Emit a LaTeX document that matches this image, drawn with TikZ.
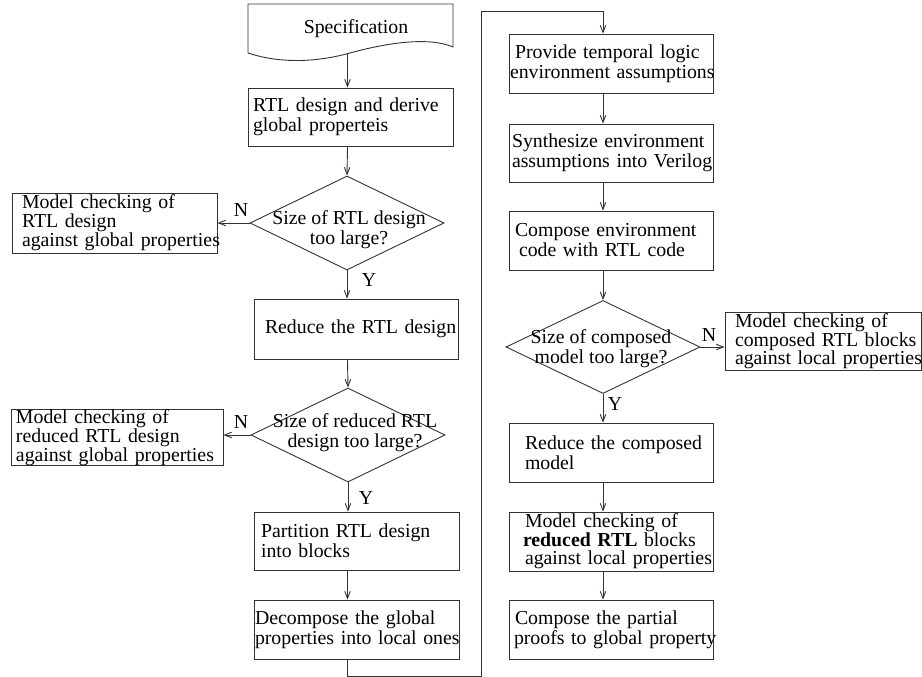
\documentclass[tikz,border=0pt]{standalone}
\usepackage{fontspec}
\setmainfont{Liberation Serif}
\usetikzlibrary{shapes.geometric,arrows.meta}
% lines are broken by hand only
\hyphenpenalty=10000
\exhyphenpenalty=10000
\hbadness=10000
\hfuzz=100pt

\begin{document}
\begin{tikzpicture}[x=1pt,y=-1pt,
  fnt/.style={font=\fontsize{19.8pt}{20pt}\selectfont},
  fntt/.style={font=\fontsize{19.8pt}{18pt}\selectfont},
  box/.style={draw=black!80, line width=0.9pt, rectangle, align=left,
              inner ysep=0pt, fnt},
  dia/.style={draw=black!80, line width=0.9pt, diamond, inner sep=0pt,
              minimum width=194pt, minimum height=94pt},
  dtext/.style={align=center, inner sep=0pt, fnt},
  yn/.style={inner sep=0pt, fnt},
  arr/.style={draw=black!80, line width=0.9pt,
              -{Straight Barb[length=7pt,width=5.5pt]}},
]
\useasboundingbox (0,0) rectangle (922,677);

% column axes
\coordinate (colA) at (347.5,0);
\coordinate (colB) at (603,0);

% ---------- left column ----------
\node[fnt, inner sep=0pt, minimum width=205pt, minimum height=50pt]
  (spec) at (350.5,29) {\hspace*{11pt}Specification};
\draw[draw=black!80, line width=0.9pt]
  (248,53) -- (248,4) -- (453,4) -- (453,47)
  .. controls (430,37) and (390,42) .. (350,53)
  .. controls (310,64) and (275,62) .. (248,53);

\node[box, text width=195pt, inner xsep=5pt, minimum height=58pt]
  (rtl) at (350.5,117) {\mbox{RTL design and derive}\\\mbox{global properteis}};

\node[dia] (d1) at (347,223) {};
\node[dtext] (d1t) at (349,229.5) {Size of RTL design\\too large?};

\node[box, fntt, text width=185pt, inner xsep=10pt, minimum height=60pt]
  (mc1) at (114.5,223) {\mbox{Model checking of}\\\mbox{RTL design}\\\mbox{against global properties}};

\node[box, text width=182pt, inner xsep=11pt, minimum height=60pt]
  (red1) at (356,329) {\mbox{Reduce the RTL design}};

\node[dia] (d2) at (348,435) {};
\node[dtext] (d2t) at (355,433) {Size of reduced RTL\\design too large?};

\node[box, fntt, text width=202pt, inner xsep=5pt, minimum height=55pt]
  (mc2) at (117,437.5) {\mbox{Model checking of}\\\mbox{reduced RTL design}\\\mbox{against global properties}};

\node[box, text width=191pt, inner xsep=7pt, minimum height=58pt]
  (part) at (356.5,541) {\mbox{Partition RTL design}\\\mbox{into blocks}};

\node[box, text width=203pt, inner xsep=1pt, minimum height=59pt]
  (dec) at (356.5,629.5) {\mbox{Decompose the global}\\\mbox{properties into local ones}};

% ---------- right column ----------
\node[box, text width=202pt, inner xsep=1pt, minimum height=59pt]
  (prov) at (611,63.5) {\mbox{\hspace*{5pt}Provide temporal logic}\\\mbox{environment assumptions}};

\node[box, text width=198pt, inner xsep=3pt, minimum height=58pt]
  (syn) at (611,153) {\mbox{Synthesize environment}\\\mbox{assumptions into Verilog}};

\node[box, text width=192pt, inner xsep=6pt, minimum height=59pt]
  (comp) at (611,240.5) {\mbox{Compose environment}\\\mbox{\hspace*{4pt}code with RTL code}};

\node[dia, minimum height=93pt] (d3) at (603,347) {};
\node[dtext] (d3t) at (601,348.5) {Size of composed\\model too large?};

\node[box, fntt, text width=176pt, inner xsep=10pt, minimum height=58pt]
  (mc3) at (823,341) {\mbox{Model checking of}\\\mbox{composed RTL blocks}\\\mbox{against local properties}};

\node[box, text width=172pt, inner xsep=16pt, minimum height=59pt]
  (red2) at (611,452.5) {\mbox{Reduce the composed}\\\mbox{model}};

\node[box, fntt, text width=172pt, inner xsep=16pt, minimum height=59pt]
  (mc4) at (611,541.5) {\mbox{Model checking of}\\\mbox{\hspace*{-2pt}\textbf{reduced RTL} blocks}\\\mbox{against local properties}};

\node[box, text width=194pt, inner xsep=5pt, minimum height=59pt]
  (fin) at (611,629.5) {\mbox{\hspace*{1pt}Compose the partial}\\\mbox{proofs to global property}};

% ---------- branch labels ----------
\node[yn] (n1) at (241,210) {N};
\node[yn] (y1) at (369,280) {Y};
\node[yn] (n2) at (241,422) {N};
\node[yn] (y2) at (366,498) {Y};
\node[yn] (n3) at (709,335) {N};
\node[yn] (y3) at (615,404) {Y};

% ---------- connectors ----------
\coordinate (lb) at (481,676);
\coordinate (lt) at (603,11);

\draw[arr] (spec.south -| colA) -- (rtl.north -| colA);
\draw[arr] (rtl.south -| colA) -- (d1.north);
\draw[arr] (d1.west) -- (d1.west -| mc1.east);
\draw[arr] (d1.south) -- (red1.north -| d1.south);
\draw[arr] (red1.south -| colA) -- (d2.north);
\draw[arr] (d2.west) -- (d2.west -| mc2.east);
\draw[arr] (d2.south) -- (part.north -| d2.south);
\draw[arr] (part.south -| colA) -- (dec.north -| colA);
\draw[arr] (dec.south -| colA) |- (lb) |- (lt) -- (prov.north -| colB);
\draw[arr] (prov.south -| colB) -- (syn.north -| colB);
\draw[arr] (syn.south -| colB) -- (comp.north -| colB);
\draw[arr] (comp.south -| colB) -- (d3.north);
\draw[arr] (d3.east) -- (d3.east -| mc3.west);
\draw[arr] (d3.south) -- (red2.north -| d3.south);
\draw[arr] (red2.south -| colB) -- (mc4.north -| colB);
\draw[arr] (mc4.south -| colB) -- (fin.north -| colB);
\end{tikzpicture}
\end{document}
